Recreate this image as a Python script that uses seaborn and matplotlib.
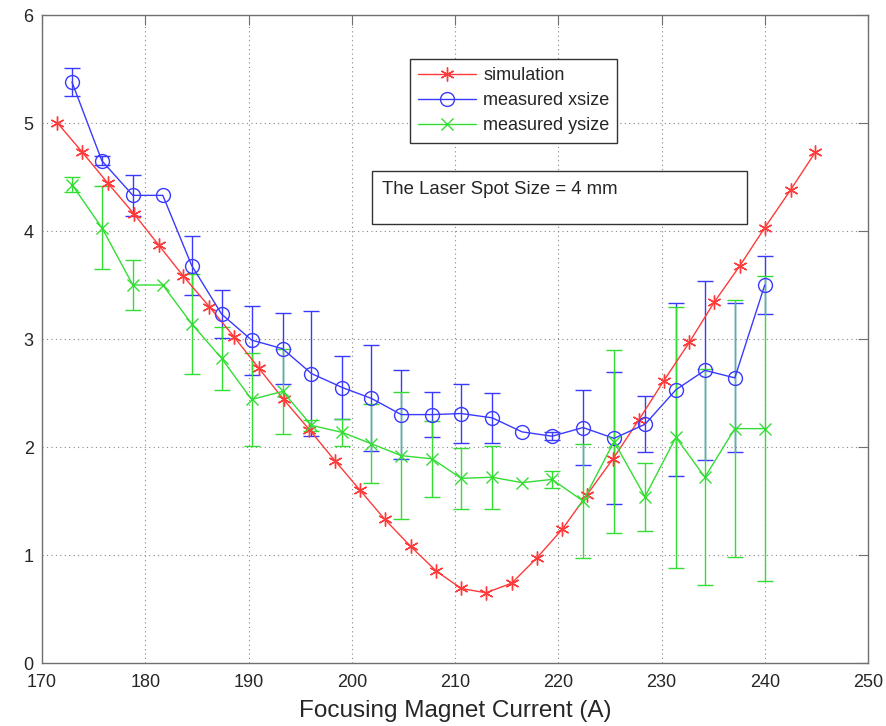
import numpy as np
import pandas as pd
import matplotlib
matplotlib.use("Agg")
import matplotlib.pyplot as plt
from matplotlib.patches import Rectangle
import seaborn as sns

# ---- data ----
sim_current = [171.5, 173.9, 176.4, 178.9, 181.3, 183.7, 186.2, 188.6, 191.0, 193.4,
               195.9, 198.4, 200.8, 203.2, 205.7, 208.2, 210.6, 213.0, 215.5, 217.9,
               220.4, 222.8, 225.3, 227.8, 230.2, 232.7, 235.1, 237.6, 240.0, 242.5, 244.9]
sim_size = [5.00, 4.73, 4.44, 4.16, 3.87, 3.58, 3.30, 3.02, 2.73, 2.44,
            2.16, 1.87, 1.60, 1.33, 1.08, 0.85, 0.69, 0.65, 0.74, 0.97,
            1.24, 1.56, 1.89, 2.25, 2.61, 2.97, 3.34, 3.68, 4.03, 4.38, 4.73]

meas_current = [172.9, 175.8, 178.8, 181.7, 184.5, 187.4, 190.3, 193.3, 196.1, 199.1,
                201.9, 204.8, 207.8, 210.6, 213.6, 216.5, 219.4, 222.4, 225.4, 228.4,
                231.4, 234.2, 237.1, 240.0]
xsize = [5.38, 4.65, 4.33, 4.33, 3.68, 3.23, 2.99, 2.91, 2.68, 2.55,
         2.45, 2.30, 2.30, 2.31, 2.27, 2.14, 2.10, 2.18, 2.08, 2.21,
         2.53, 2.71, 2.64, 3.50]
xsize_err = [0.13, 0.04, 0.19, 0.0, 0.27, 0.22, 0.32, 0.33, 0.58, 0.29,
             0.49, 0.41, 0.21, 0.27, 0.23, 0.0, 0.035, 0.35, 0.61, 0.26,
             0.80, 0.83, 0.69, 0.27]
ysize = [4.43, 4.03, 3.50, 3.50, 3.14, 2.82, 2.44, 2.515, 2.20, 2.135,
         2.03, 1.92, 1.89, 1.71, 1.72, 1.67, 1.70, 1.50, 2.05, 1.54,
         2.09, 1.72, 2.17, 2.17]
ysize_err = [0.07, 0.385, 0.23, 0.0, 0.465, 0.29, 0.43, 0.39, 0.05, 0.125,
             0.365, 0.59, 0.35, 0.28, 0.29, 0.0, 0.08, 0.53, 0.85, 0.315,
             1.21, 1.00, 1.19, 1.41]

x_ticks = [170, 180, 190, 200, 210, 220, 230, 240, 250]
y_ticks = [0, 1, 2, 3, 4, 5, 6]

sim_df = pd.DataFrame({"current": sim_current, "size": sim_size})
meas_df = pd.DataFrame({"current": meas_current, "xsize": xsize, "xerr": xsize_err,
                        "ysize": ysize, "yerr": ysize_err})

# ---- style ----
sns.set_style("white")
plt.rcParams["font.family"] = ["Liberation Sans", "DejaVu Sans"]

RED = "#ff3a3a"
BLUE = "#3a3aff"
GREEN = "#33dd33"

fig = plt.figure(figsize=(8.86, 7.26), dpi=100)
ax = fig.add_axes([42 / 886, 1 - 663 / 726, 826 / 886, 648 / 726])

# error bars
for col, ecol, color in [("xsize", "xerr", BLUE), ("ysize", "yerr", GREEN)]:
    sub = meas_df[meas_df[ecol] > 0]
    ax.errorbar(sub["current"], sub[col], yerr=sub[ecol], fmt="none",
                ecolor=color, elinewidth=1.0, capsize=6, capthick=1.0, zorder=2)

sns.lineplot(data=sim_df, x="current", y="size", ax=ax, sort=False, estimator=None,
             color=RED, lw=1.0, marker=(6, 2, 0), markersize=10,
             markeredgecolor=RED, markeredgewidth=1.0, label="simulation", zorder=3)
sns.lineplot(data=meas_df, x="current", y="xsize", ax=ax, sort=False, estimator=None,
             color=BLUE, lw=1.0, marker="o", markersize=10, markerfacecolor="none",
             markeredgecolor=BLUE, markeredgewidth=1.0, label="measured xsize", zorder=3)
sns.lineplot(data=meas_df, x="current", y="ysize", ax=ax, sort=False, estimator=None,
             color=GREEN, lw=1.0, marker="x", markersize=8,
             markeredgecolor=GREEN, markeredgewidth=1.0, label="measured ysize", zorder=3)

ax.set_xlim(170, 250)
ax.set_ylim(0, 6)
ax.set_xticks(x_ticks)
ax.set_yticks(y_ticks)
ax.tick_params(direction="in", top=True, right=True, length=7, width=0.8,
               color="#707070", labelsize=13)
ax.tick_params(axis="x", pad=8)
ax.tick_params(axis="y", pad=6)
ax.grid(True, linestyle=(0, (1, 3)), color="#888888", linewidth=0.8)
for s in ax.spines.values():
    s.set_color("#707070")
    s.set_linewidth(1.0)
    s.set_visible(True)

ax.set_xlabel("Focusing Magnet Current (A)", fontsize=17.5, labelpad=6.5)
ax.set_ylabel("")

leg = ax.legend(loc="upper left", bbox_to_anchor=(0.4455, 0.932), fontsize=13,
                frameon=True, fancybox=False, edgecolor="#333333", framealpha=1,
                handlelength=3.2, handletextpad=0.4, borderpad=0.45,
                labelspacing=0.45, borderaxespad=0)
leg.get_frame().set_linewidth(1.0)

# annotation text box
ax.add_patch(Rectangle((0.3995, 0.677), 0.454, 0.083, transform=ax.transAxes,
                       facecolor="white", edgecolor="#333333", lw=1.0, zorder=5))
ax.text(0.4115, 0.731, "The Laser Spot Size = 4 mm", transform=ax.transAxes,
        fontsize=13.4, va="center", ha="left", zorder=6)

fig.savefig("out.png", dpi=100)
